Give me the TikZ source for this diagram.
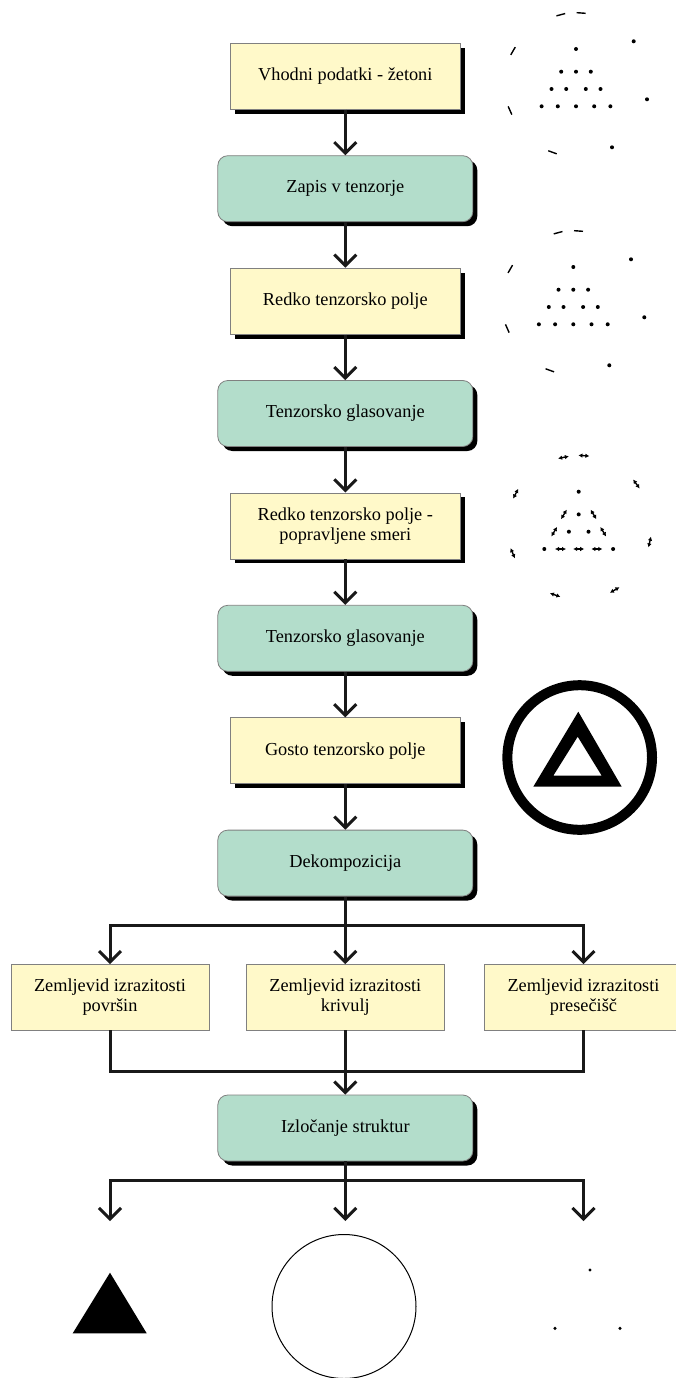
\documentclass[tikz,border=0pt]{standalone}
\usepackage{fontspec}
\setmainfont{Liberation Serif}
\usetikzlibrary{arrows.meta,shadows}

\definecolor{fieldyellow}{RGB}{255,249,201}
\definecolor{procgreen}{RGB}{179,221,203}

\newcommand{\tokdot}[1]{\fill (#1) circle (2pt);}
\newcommand{\tokdash}[2]{\draw[line width=1.4pt] (#1) ++(#2:-4.5pt) -- ++(#2:9pt);}
\newcommand{\tokarrow}[2]{\draw[line width=1.4pt, {Latex[length=4pt,width=4.5pt]}-{Latex[length=4pt,width=4.5pt]}] (#1) ++(#2:-5.5pt) -- ++(#2:11pt);}
\newcommand{\tokfield}{%
\tokdot{0,0}
\tokdot{-14.8,22.7} \tokdot{0,22.7} \tokdot{14.8,22.7}
\tokdot{-24.5,40} \tokdot{-9.8,40} \tokdot{9.8,40} \tokdot{24.5,40}
\tokdot{-34.4,57.3} \tokdot{-18.2,57.3} \tokdot{0,57.3} \tokdot{18.2,57.3} \tokdot{34.4,57.3}
\tokdash{-15.2,-34.3}{15} \tokdash{5.2,-36}{-4} \tokdash{-63,2}{60}
\tokdot{57.7,-7.7} \tokdot{71,50.3}
\tokdash{-66,61.5}{-66} \tokdash{-23.5,103.3}{-20}
\tokdot{36,98.3}}

\begin{document}
\begin{tikzpicture}[x=1pt, y=-1pt, >={Straight Barb[length=11pt,width=22pt]},
  flow/.style={line width=3pt, draw=black!90},
  fieldbox/.style={draw=black!50, line width=0.8pt, fill=fieldyellow, minimum width=230pt, minimum height=66pt, align=center, font=\fontsize{18.3}{20.5}\selectfont, drop shadow={shadow xshift=4.5pt, shadow yshift=-4.5pt, opacity=1, fill=black}},
  procbox/.style={fieldbox, fill=procgreen, rounded corners=10pt, minimum width=255pt},
  mapbox/.style={draw=black!50, line width=0.8pt, fill=fieldyellow, minimum width=198pt, minimum height=65.5pt, align=center, font=\fontsize{18.3}{20.5}\selectfont}]
\useasboundingbox (0,0) rectangle (675,1378);

% main column
\node[fieldbox] (input) at (345.3,76.3) {Vhodni podatki - žetoni};
\node[procbox] (encode) at (345.3,188.7) {Zapis v tenzorje};
\node[fieldbox] (sparse) at (345.3,301.1) {Redko tenzorsko polje};
\node[procbox] (vote1) at (345.3,413.5) {Tenzorsko glasovanje};
\node[fieldbox] (sparsefix) at (345.3,525.9) {Redko tenzorsko polje -\\popravljene smeri};
\node[procbox] (vote2) at (345.3,638.3) {Tenzorsko glasovanje};
\node[fieldbox] (dense) at (345.3,750.7) {Gosto tenzorsko polje};
\node[procbox] (decomp) at (345.3,863.1) {Dekompozicija};

\node[mapbox] (surfmap) at (110,997.3) {Zemljevid izrazitosti\\površin};
\node[mapbox] (curvmap) at (345.3,997.3) {Zemljevid izrazitosti\\krivulj};
\node[mapbox] (junctmap) at (583.5,997.3) {Zemljevid izrazitosti\\presečišč};

\node[procbox] (extract) at (345.3,1128) {Izločanje struktur};

\coordinate (split1) at (345.3,925);
\coordinate (merge) at (345.3,1071);
\coordinate (split2) at (345.3,1180);
\coordinate (outsurf) at (110,1221);
\coordinate (outcurv) at (345.3,1221);
\coordinate (outjunct) at (583.5,1221);

\draw[flow,->] (input) -- (encode);
\draw[flow,->] (encode) -- (sparse);
\draw[flow,->] (sparse) -- (vote1);
\draw[flow,->] (vote1) -- (sparsefix);
\draw[flow,->] (sparsefix) -- (vote2);
\draw[flow,->] (vote2) -- (dense);
\draw[flow,->] (dense) -- (decomp);

\draw[flow,->] (decomp) -- (curvmap);
\draw[flow,->] (split1) -| (surfmap);
\draw[flow,->] (split1) -| (junctmap);

\draw[flow] (surfmap) |- (merge) -| (junctmap);
\draw[flow,->] (curvmap) -- (extract);

\draw[flow,->] (extract) -- (outcurv);
\draw[flow,->] (split2) -| (outsurf);
\draw[flow,->] (split2) -| (outjunct);

% token fields
\begin{scope}[shift={(576,49)}]
\tokfield
\end{scope}
\begin{scope}[shift={(573.3,267)}]
\tokfield
\end{scope}
\begin{scope}[shift={(578.7,491.7)}]
\tokdot{0,0}
\tokarrow{-14.8,22.7}{59} \tokdot{0,22.7} \tokarrow{14.8,22.7}{-59}
\tokarrow{-24.5,40}{59} \tokdot{-9.8,40} \tokdot{9.8,40} \tokarrow{24.5,40}{-59}
\tokdot{-34.4,57.3} \tokarrow{-18.2,57.3}{0} \tokarrow{0,57.3}{0} \tokarrow{18.2,57.3}{0} \tokdot{34.4,57.3}
\tokarrow{-15.2,-34.3}{12} \tokarrow{5.2,-36}{-4} \tokarrow{-63,2}{62}
\tokarrow{57.7,-7.7}{-54} \tokarrow{71,50.3}{77}
\tokarrow{-66,61.5}{-67} \tokarrow{-23.5,103.3}{-19} \tokarrow{36,98.3}{30}
\end{scope}

% dense field symbol
\draw[line width=10pt] (579.7,757.5) circle (72.3pt);
\fill[even odd rule] (578.3,711.7) -- (533.3,786.7) -- (621.7,786.7) -- cycle
  (577.7,736.7) -- (553.3,775.7) -- (601.7,775.7) -- cycle;

% extracted structures
\fill (110,1272.7) -- (72.7,1333.3) -- (146.7,1333.3) -- cycle;
\draw[line width=1pt] (344,1306.5) circle (72pt);
\fill (590,1270) circle (1.7pt);
\fill (555,1328.3) circle (1.7pt);
\fill (620,1328.3) circle (1.7pt);
\end{tikzpicture}
\end{document}
